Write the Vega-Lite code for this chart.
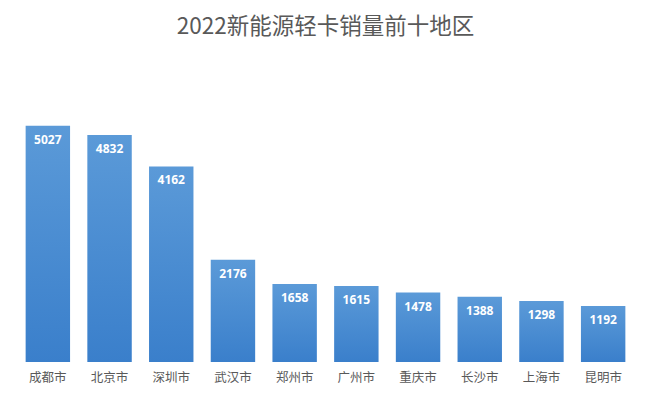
{
  "$schema": "https://vega.github.io/schema/vega-lite/v6.json",
  "width": 617,
  "height": 282,
  "autosize": "none",
  "padding": {"left": 17, "top": 80, "right": 19, "bottom": 43},
  "background": "#ffffff",
  "config": {"view": {"stroke": null}, "font": "Noto Sans CJK SC"},
  "title": {
    "text": "2022新能源轻卡销量前十地区",
    "fontSize": 22.5,
    "fontWeight": "normal",
    "color": "#595959",
    "anchor": "middle",
    "offset": 42,
    "font": "Noto Sans CJK SC"
  },
  "data": {
    "values": [
      {"city": "成都市", "sales": 5027},
      {"city": "北京市", "sales": 4832},
      {"city": "深圳市", "sales": 4162},
      {"city": "武汉市", "sales": 2176},
      {"city": "郑州市", "sales": 1658},
      {"city": "广州市", "sales": 1615},
      {"city": "重庆市", "sales": 1478},
      {"city": "长沙市", "sales": 1388},
      {"city": "上海市", "sales": 1298},
      {"city": "昆明市", "sales": 1192}
    ]
  },
  "encoding": {
    "x": {
      "field": "city",
      "type": "nominal",
      "sort": null,
      "scale": {"paddingInner": 0.28, "paddingOuter": 0.14},
      "axis": {
        "title": null,
        "labelAngle": 0,
        "domain": false,
        "ticks": false,
        "labelPadding": 9,
        "labelFontSize": 12.5,
        "labelColor": "#595959",
        "labelFont": "Noto Sans CJK SC"
      }
    },
    "y": {
      "field": "sales",
      "type": "quantitative",
      "scale": {"domain": [0, 6000], "nice": false},
      "axis": null
    }
  },
  "layer": [
    {
      "mark": {
        "type": "bar",
        "color": {
          "gradient": "linear",
          "x1": 0, "y1": 0, "x2": 0, "y2": 1,
          "stops": [
            {"offset": 0, "color": "#5b9ad8"},
            {"offset": 1, "color": "#3a7fcb"}
          ]
        }
      }
    },
    {
      "mark": {
        "type": "text",
        "baseline": "top",
        "dy": 9,
        "color": "#ffffff",
        "fontWeight": "bold",
        "fontSize": 12,
        "font": "Noto Sans"
      },
      "encoding": {"text": {"field": "sales", "type": "quantitative", "format": "d"}}
    }
  ]
}
